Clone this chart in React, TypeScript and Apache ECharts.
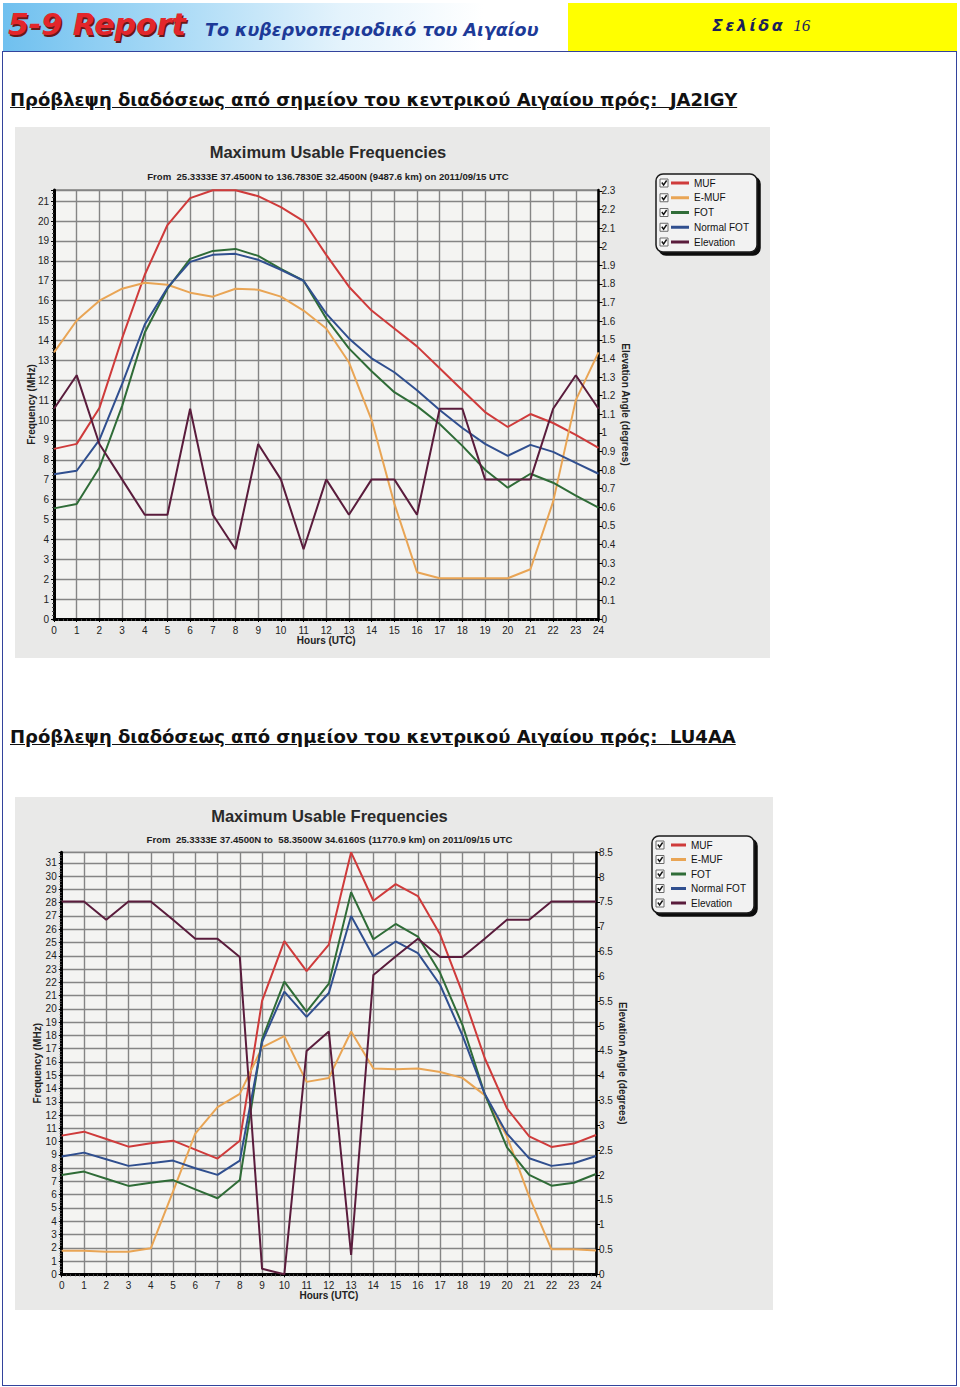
import React, { useEffect, useRef } from "react";
import * as echarts from "echarts";

// ---------- DATA ----------
const HOURS = [0, 1, 2, 3, 4, 5, 6, 7, 8, 9, 10, 11, 12, 13, 14, 15, 16, 17, 18, 19, 20, 21, 22, 23, 24];
const SERIES_NAMES = ["MUF", "E-MUF", "FOT", "Normal FOT", "Elevation"];

// Chart 1: to JA2IGY (MHz, elevation in degrees)
const JA_MUF = [8.55, 8.8, 10.6, 14.1, 17.3, 19.8, 21.15, 21.55, 21.55, 21.25, 20.7, 20.0, 18.3, 16.7, 15.5, 14.6, 13.7, 12.6, 11.5, 10.4, 9.65, 10.3, 9.85, 9.25, 8.6];
const JA_EMUF = [13.4, 15.0, 16.0, 16.6, 16.9, 16.8, 16.4, 16.2, 16.6, 16.55, 16.2, 15.5, 14.6, 12.9, 10.0, 5.8, 2.35, 2.05, 2.05, 2.05, 2.05, 2.5, 5.9, 11.0, 13.4];
const JA_FOT = [5.56, 5.78, 7.6, 10.7, 14.4, 16.6, 18.1, 18.5, 18.6, 18.25, 17.6, 17.0, 15.1, 13.6, 12.45, 11.4, 10.7, 9.8, 8.7, 7.5, 6.6, 7.3, 6.85, 6.2, 5.6];
const JA_NFOT = [7.27, 7.45, 9.0, 11.8, 14.8, 16.65, 17.95, 18.3, 18.35, 18.05, 17.55, 17.0, 15.35, 14.1, 13.1, 12.4, 11.5, 10.5, 9.6, 8.8, 8.2, 8.75, 8.4, 7.85, 7.3];
const JA_ELEV = [1.13, 1.31, 0.94, 0.75, 0.56, 0.56, 1.13, 0.56, 0.375, 0.94, 0.75, 0.375, 0.75, 0.56, 0.75, 0.75, 0.56, 1.13, 1.13, 0.75, 0.75, 0.75, 1.13, 1.31, 1.13];

// Chart 2: to LU4AA
const LU_MUF = [10.45, 10.75, 10.2, 9.62, 9.87, 10.07, 9.4, 8.72, 10.07, 20.6, 25.1, 22.85, 24.85, 31.8, 28.15, 29.4, 28.5, 25.6, 21.2, 16.3, 12.5, 10.4, 9.6, 9.85, 10.5];
const LU_EMUF = [1.78, 1.78, 1.7, 1.7, 1.96, 6.23, 10.6, 12.6, 13.6, 17.1, 17.95, 14.5, 14.8, 18.3, 15.5, 15.45, 15.5, 15.25, 14.8, 13.5, 10.4, 5.85, 1.88, 1.88, 1.8];
const LU_FOT = [7.49, 7.74, 7.2, 6.66, 6.9, 7.1, 6.4, 5.73, 7.1, 17.7, 22.06, 19.8, 21.9, 28.8, 25.25, 26.4, 25.45, 22.7, 18.8, 13.6, 9.57, 7.49, 6.68, 6.9, 7.56];
const LU_NFOT = [8.87, 9.17, 8.67, 8.17, 8.37, 8.57, 7.99, 7.49, 8.57, 17.5, 21.3, 19.4, 21.2, 27.0, 23.95, 25.08, 24.2, 21.8, 18.0, 13.6, 10.6, 8.74, 8.17, 8.37, 8.92];
const LU_ELEV = [7.51, 7.51, 7.14, 7.51, 7.51, 7.14, 6.76, 6.76, 6.39, 0.11, 0.0, 4.5, 4.89, 0.39, 6.03, 6.4, 6.76, 6.39, 6.39, 6.76, 7.14, 7.14, 7.51, 7.51, 7.51];

const JA_SUBTITLE = "From  25.3333E 37.4500N to 136.7830E 32.4500N (9487.6 km) on 2011/09/15 UTC";
const LU_SUBTITLE = "From  25.3333E 37.4500N to  58.3500W 34.6160S (11770.9 km) on 2011/09/15 UTC";
const CHART_TITLE = "Maximum Usable Frequencies";

// ---------- STYLE ----------
const COLORS = ["#cf3b3b", "#e9a555", "#2f6c37", "#304f8f", "#5a1c3c"];
const FONT = "'Liberation Sans', Arial, sans-serif";

type Cfg = {
  x: number; y: number; w: number; h: number;
  grid: { left: number; top: number; width: number; height: number };
  leftMax: number; rightMax: number; rightInterval: number; rightShowMax: boolean;
  data: number[][]; subtitle: string;
  titleX: number; titleY: number; subY: number;
  legLeft: number; legTop: number; legPadLeft: number; legIconW: number; legGap: number;
  leftNameGap: number; rightNameGap: number; xNameGap: number;
};

const CFG1: Cfg = {
  x: 15, y: 127, w: 755, h: 531,
  grid: { left: 39, top: 63, width: 544.5, height: 429 },
  leftMax: 21.56, rightMax: 2.305, rightInterval: 0.1, rightShowMax: false,
  data: [JA_MUF, JA_EMUF, JA_FOT, JA_NFOT, JA_ELEV], subtitle: JA_SUBTITLE,
  titleX: 313, titleY: 25, subY: 49,
  legLeft: 641, legTop: 47, legPadLeft: 15, legIconW: 18, legGap: 2.75,
  leftNameGap: 18, rightNameGap: 21.5, xNameGap: 16.5,
};

const CFG2: Cfg = {
  x: 15, y: 797, w: 758, h: 513,
  grid: { left: 46.7, top: 55.3, width: 534.3, height: 422 },
  leftMax: 31.8, rightMax: 8.5, rightInterval: 0.5, rightShowMax: true,
  data: [LU_MUF, LU_EMUF, LU_FOT, LU_NFOT, LU_ELEV], subtitle: LU_SUBTITLE,
  titleX: 314.5, titleY: 19, subY: 42,
  legLeft: 637, legTop: 39, legPadLeft: 19, legIconW: 15, legGap: 2.5,
  leftNameGap: 19, rightNameGap: 21, xNameGap: 16,
};

function buildOption(c: Cfg) {
  const rowH = 12;
  const padTop = 3;
  const graphics: any[] = [
    {
      type: "text", x: c.titleX, y: c.titleY,
      style: { text: CHART_TITLE, font: `bold 16.5px ${FONT}`, fill: "#2a2a2a", textAlign: "center", textVerticalAlign: "middle" },
    },
    {
      type: "text", x: c.titleX, y: c.subY,
      style: { text: c.subtitle, font: `bold 9.6px ${FONT}`, fill: "#1e1e1e", textAlign: "center", textVerticalAlign: "middle" },
    },
  ];
  SERIES_NAMES.forEach((_, i) => {
    const cy = c.legTop + padTop + i * (rowH + c.legGap) + rowH / 2;
    const bx = c.legLeft + 4;
    graphics.push({
      type: "rect", z: 100,
      shape: { x: bx, y: cy - 4, width: 8, height: 8 },
      style: { fill: "#fbfbfb", stroke: "#6a6a6a", lineWidth: 1 },
    });
    graphics.push({
      type: "polyline", z: 101,
      shape: { points: [[bx + 1.8, cy - 0.5], [bx + 3.6, cy + 2], [bx + 6.6, cy - 2.5]] },
      style: { stroke: "#111", lineWidth: 1.4, fill: null },
    });
  });

  const axisLbl = { fontSize: 10, color: "#222", fontFamily: FONT };
  const nameStyle = { fontSize: 10, fontWeight: "bold" as const, color: "#222", fontFamily: FONT };

  return {
    animation: false,
    backgroundColor: "#e9e9e8",
    grid: { ...c.grid, show: true, backgroundColor: "#f4f4f2", borderColor: "#555", borderWidth: 1, containLabel: false },
    graphic: graphics,
    legend: {
      orient: "vertical",
      left: c.legLeft, top: c.legTop,
      padding: [padTop, 8, 4, c.legPadLeft],
      itemWidth: c.legIconW, itemHeight: 3, itemGap: c.legGap,
      icon: "rect",
      data: SERIES_NAMES,
      textStyle: { fontSize: 10, lineHeight: rowH, color: "#111", fontFamily: FONT },
      backgroundColor: "#f2f2f2",
      borderColor: "#1a1a1a", borderWidth: 1.5, borderRadius: 7,
      shadowColor: "rgba(0,0,0,0.95)", shadowBlur: 1, shadowOffsetX: 3, shadowOffsetY: 3,
    },
    xAxis: {
      type: "value", min: 0, max: 24, interval: 1,
      axisLine: { show: true, onZero: false, lineStyle: { color: "#000", width: 3 } },
      axisTick: { show: true, length: 3, lineStyle: { color: "#000" } },
      minorTick: { show: true, splitNumber: 5, length: 2, lineStyle: { color: "#444" } },
      axisLabel: { ...axisLbl, margin: 6 },
      splitLine: { show: true, lineStyle: { color: "#858585", width: 1.4 } },
      name: "Hours (UTC)", nameLocation: "middle", nameGap: c.xNameGap, nameMoveOverlap: false, nameTextStyle: nameStyle,
    },
    yAxis: [
      {
        type: "value", min: 0, max: c.leftMax, interval: 1, position: "left",
        axisLine: { show: true, onZero: false, lineStyle: { color: "#000", width: 3 } },
        axisTick: { show: true, length: 3, lineStyle: { color: "#000" } },
        minorTick: { show: true, splitNumber: 5, length: 2, lineStyle: { color: "#444" } },
        axisLabel: { ...axisLbl, margin: 5, showMaxLabel: false },
        splitLine: { show: true, lineStyle: { color: "#858585", width: 1.4 } },
        name: "Frequency (MHz)", nameLocation: "middle", nameGap: c.leftNameGap, nameMoveOverlap: false, nameTextStyle: nameStyle,
      },
      {
        type: "value", min: 0, max: c.rightMax, interval: c.rightInterval, position: "right",
        axisLine: { show: true, onZero: false, lineStyle: { color: "#000", width: 2.5 } },
        axisTick: { show: true, length: 4, lineStyle: { color: "#000" } },
        axisLabel: { ...axisLbl, margin: 3, showMaxLabel: c.rightShowMax },
        splitLine: { show: false },
        name: "Elevation Angle (degrees)", nameLocation: "middle", nameRotate: -90, nameGap: c.rightNameGap, nameMoveOverlap: false, nameTextStyle: nameStyle,
      },
    ],
    series: SERIES_NAMES.map((name, i) => ({
      name, type: "line", yAxisIndex: i === 4 ? 1 : 0,
      data: HOURS.map((h, k) => [h, c.data[i][k]]),
      showSymbol: false, symbol: "none",
      lineStyle: { color: COLORS[i], width: 2 },
      itemStyle: { color: COLORS[i] },
      z: 2 + i,
    })),
  };
}

function ChartBox({ cfg }: { cfg: Cfg }) {
  const ref = useRef<HTMLDivElement>(null);
  useEffect(() => {
    const chart = echarts.init(ref.current!, null, { renderer: "svg" });
    chart.setOption(buildOption(cfg) as any);
    return () => chart.dispose();
  }, [cfg]);
  return <div ref={ref} style={{ position: "absolute", left: cfg.x, top: cfg.y, width: cfg.w, height: cfg.h }} />;
}

const HEADING_BASE = "Πρόβλεψη διαδόσεως από σημείον του κεντρικού Αιγαίου πρός:  ";

export default function App() {
  const headingStyle: React.CSSProperties = {
    position: "absolute", left: 10, fontFamily: "'DejaVu Sans', Verdana, sans-serif",
    fontSize: 18, fontWeight: "bold", lineHeight: "21px", color: "#111", textDecoration: "underline", whiteSpace: "pre",
  };
  return (
    <div style={{ position: "absolute", left: 0, top: 0, width: 960, height: 1387, background: "#fff", overflow: "hidden" }}>
      {/* header */}
      <div style={{ position: "absolute", left: 3, top: 3, width: 565, height: 49, background: "linear-gradient(to right, #6fc0ef 0%, #a9daf6 30%, #e4f3fc 60%, #ffffff 85%)" }} />
      <div style={{ position: "absolute", left: 568, top: 3, width: 389, height: 48, background: "#ffff00" }} />
      <div style={{ position: "absolute", left: 8, top: 7, fontFamily: "'DejaVu Sans', Verdana, sans-serif", fontWeight: "bold", fontStyle: "italic", fontSize: 30, lineHeight: "36px", color: "#e3262b", textShadow: "1.5px 1.5px 0 #6a1818", whiteSpace: "pre" }}>5-9 Report</div>
      <div style={{ position: "absolute", left: 205, top: 19, fontFamily: "'DejaVu Sans', Verdana, sans-serif", fontWeight: "bold", fontStyle: "italic", fontSize: 17.5, lineHeight: "22px", color: "#1d3a98", whiteSpace: "pre" }}>Το κυβερνοπεριοδικό του Αιγαίου</div>
      <div style={{ position: "absolute", left: 712, top: 14, fontFamily: "'DejaVu Sans', Verdana, sans-serif", fontWeight: "bold", fontStyle: "italic", fontSize: 16, lineHeight: "24px", letterSpacing: 2.5, color: "#1b1f5a", whiteSpace: "pre" }}>
        Σελίδα <span style={{ fontFamily: "'Liberation Serif', 'DejaVu Serif', serif", fontWeight: "normal", letterSpacing: 0, fontSize: 17, color: "#1b1f5a" }}>16</span>
      </div>
      {/* page frame */}
      <div style={{ position: "absolute", left: 2, top: 51, width: 953, height: 1333, border: "1.5px solid #33439c" }} />

      <div style={{ ...headingStyle, top: 89 }}>{HEADING_BASE}JA2IGY</div>
      <div style={{ ...headingStyle, top: 726 }}>{HEADING_BASE}LU4AA</div>

      <ChartBox cfg={CFG1} />
      <ChartBox cfg={CFG2} />
    </div>
  );
}
